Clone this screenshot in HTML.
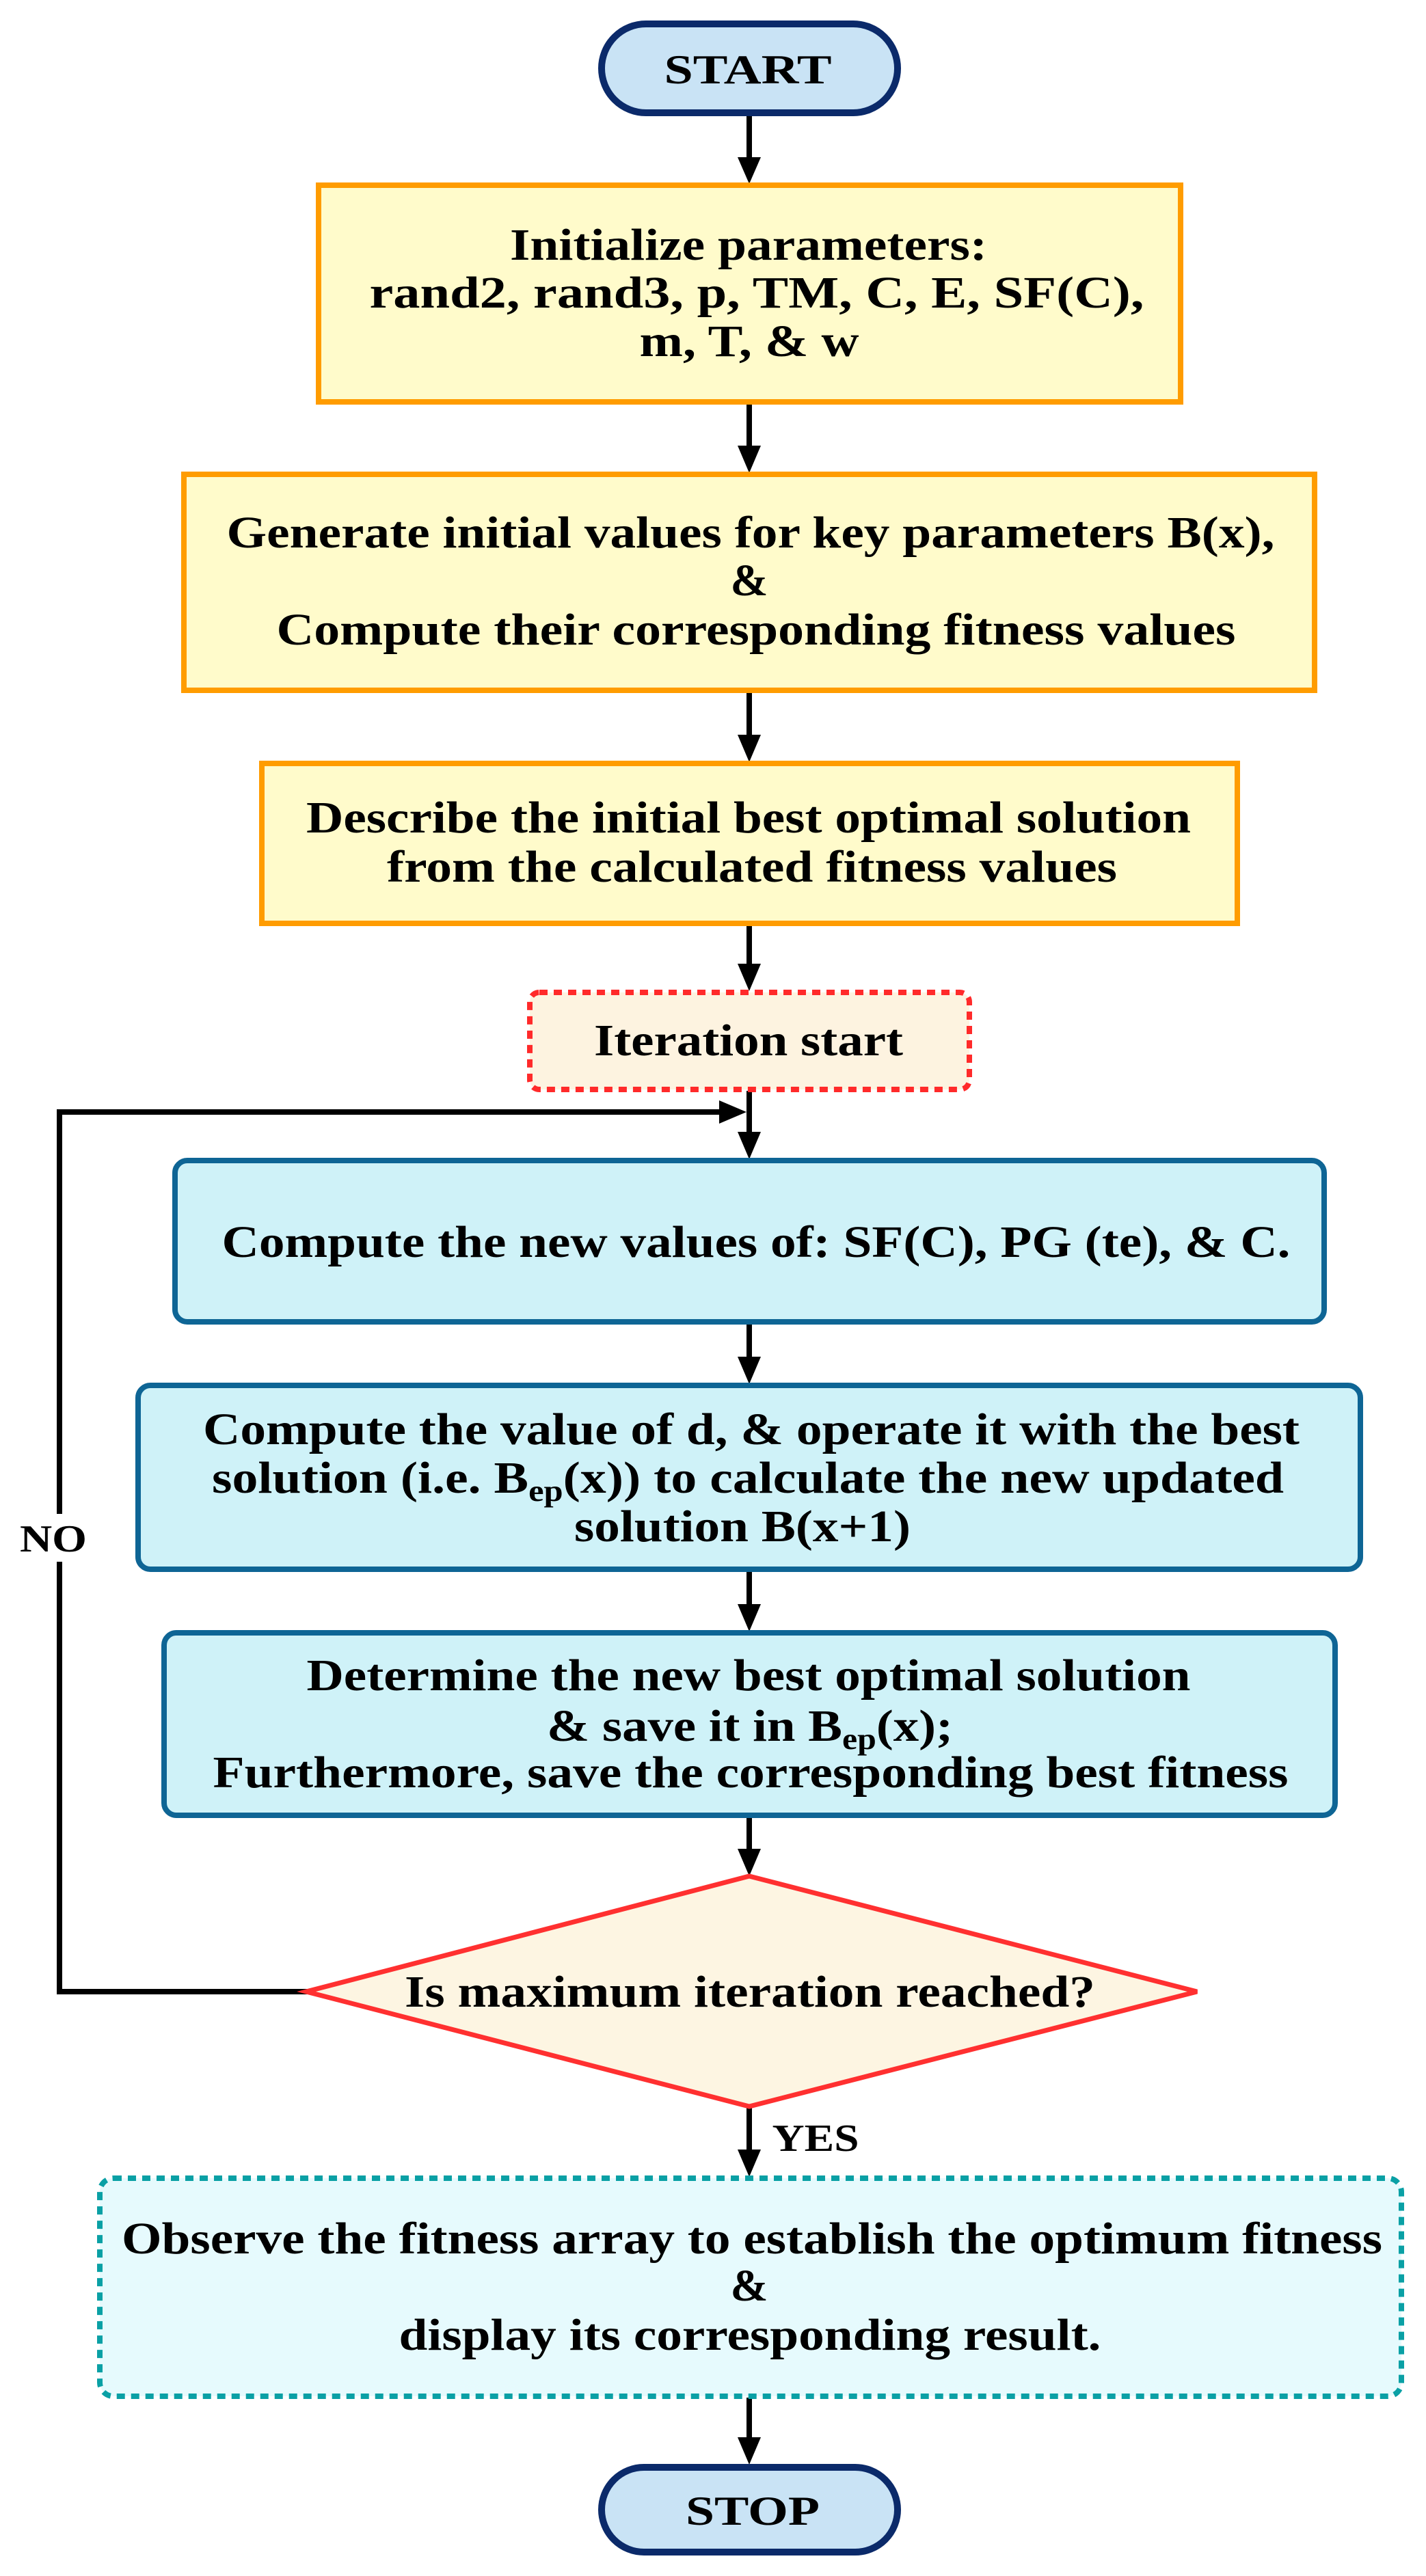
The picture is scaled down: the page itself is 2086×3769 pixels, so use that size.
<!DOCTYPE html>
<html><head><meta charset="utf-8"><style>
html,body{margin:0;padding:0;background:#fff;}
svg{display:block;}
text{font-family:"Liberation Serif",serif;font-weight:bold;fill:#000;text-anchor:middle;}
</style></head><body>
<svg width="2086" height="3769" viewBox="0 0 2086 3769" xmlns="http://www.w3.org/2000/svg">
<g fill="#000">
<rect x="1092" y="169" width="8" height="65"/><polygon points="1079,230 1113,230 1096,269"/>
<rect x="1092" y="590" width="8" height="65"/><polygon points="1079,652 1113,652 1096,692"/>
<rect x="1092" y="1012" width="8" height="65"/><polygon points="1079,1075 1113,1075 1096,1115"/>
<rect x="1092" y="1353" width="8" height="60"/><polygon points="1079,1410 1113,1410 1096,1450"/>
<rect x="1092" y="1596" width="8" height="65"/><polygon points="1079,1656 1113,1656 1096,1696"/>
<rect x="1092" y="1936" width="8" height="55"/><polygon points="1079,1985 1113,1985 1096,2025"/>
<rect x="1092" y="2298" width="8" height="55"/><polygon points="1079,2347 1113,2347 1096,2387"/>
<rect x="1092" y="2658" width="8" height="50"/><polygon points="1079,2705 1113,2705 1096,2745"/>
<rect x="1092" y="3082" width="8" height="65"/><polygon points="1079,3145 1113,3145 1096,3185"/>
<rect x="1092" y="3508" width="8" height="62"/><polygon points="1079,3566 1113,3566 1096,3606"/>
<rect x="83" y="1623" width="8" height="1295"/>
<rect x="83" y="2910" width="368" height="8"/>
<rect x="83" y="1623" width="975" height="8"/><polygon points="1052,1610 1052,1644 1092,1627"/>
</g>
<rect x="20" y="2215" width="120" height="70" fill="#fff"/>
<text x="78" y="2270" font-size="56" textLength="98" lengthAdjust="spacingAndGlyphs">NO</text>
<text x="1193" y="3147" font-size="56" textLength="127" lengthAdjust="spacingAndGlyphs">YES</text>

<rect x="880" y="35" width="433" height="130" rx="65" fill="#c9e3f5" stroke="#0b2a6a" stroke-width="10"/>
<text x="1094" y="122" font-size="60" textLength="245" lengthAdjust="spacingAndGlyphs">START</text>

<rect x="466" y="271" width="1261" height="317" fill="#fffbcb" stroke="#ff9c00" stroke-width="8"/>
<text x="1095" y="380" font-size="66" textLength="698" lengthAdjust="spacingAndGlyphs">Initialize parameters:</text>
<text x="1107" y="450" font-size="66" textLength="1133" lengthAdjust="spacingAndGlyphs">rand2, rand3, p, TM, C, E,   SF(C),</text>
<text x="1096" y="521" font-size="66" textLength="321" lengthAdjust="spacingAndGlyphs">m, T, &amp; w</text>

<rect x="269" y="694" width="1654" height="316" fill="#fffbcb" stroke="#ff9c00" stroke-width="8"/>
<text x="1098" y="801" font-size="66" textLength="1533" lengthAdjust="spacingAndGlyphs">Generate initial values for key parameters B(x),</text>
<text x="1096" y="871" font-size="66">&amp;</text>
<text x="1106" y="943" font-size="66" textLength="1403" lengthAdjust="spacingAndGlyphs">Compute their corresponding fitness values</text>

<rect x="383" y="1117" width="1427" height="234" fill="#fffbcb" stroke="#ff9c00" stroke-width="8"/>
<text x="1095" y="1218" font-size="66" textLength="1294" lengthAdjust="spacingAndGlyphs">Describe the initial best optimal solution</text>
<text x="1100" y="1290" font-size="66" textLength="1068" lengthAdjust="spacingAndGlyphs">from the calculated fitness values</text>

<rect x="775" y="1452" width="643" height="142" rx="14" fill="#fdf3e0" stroke="#ff2a2a" stroke-width="8" stroke-dasharray="12,9"/>
<text x="1095" y="1544" font-size="66" textLength="452" lengthAdjust="spacingAndGlyphs">Iteration start</text>

<rect x="256" y="1698" width="1681" height="236" rx="18" fill="#cff2f8" stroke="#0e6595" stroke-width="8"/>
<text x="1106" y="1839" font-size="66" textLength="1563" lengthAdjust="spacingAndGlyphs">Compute the new values of: SF(C), PG (te), &amp; C.</text>

<rect x="202" y="2027" width="1788" height="269" rx="18" fill="#cff2f8" stroke="#0e6595" stroke-width="8"/>
<text x="1099" y="2113" font-size="66" textLength="1604" lengthAdjust="spacingAndGlyphs">Compute the value of d, &amp; operate it with  the best</text>
<text x="1094" y="2184" font-size="66" textLength="1568" lengthAdjust="spacingAndGlyphs">solution  (i.e. B<tspan font-size="44" dy="12">ep</tspan><tspan dy="-12">(x))  to calculate the new updated</tspan></text>
<text x="1086" y="2255" font-size="66" textLength="492" lengthAdjust="spacingAndGlyphs">solution  B(x+1)</text>

<rect x="240" y="2389" width="1713" height="267" rx="18" fill="#cff2f8" stroke="#0e6595" stroke-width="8"/>
<text x="1095" y="2473" font-size="66" textLength="1293" lengthAdjust="spacingAndGlyphs">Determine the new best optimal solution</text>
<text x="1097" y="2547" font-size="66" textLength="594" lengthAdjust="spacingAndGlyphs">&amp; save it in B<tspan font-size="44" dy="12">ep</tspan><tspan dy="-12">(x);</tspan></text>
<text x="1098" y="2615" font-size="66" textLength="1573" lengthAdjust="spacingAndGlyphs">Furthermore, save the corresponding best fitness</text>

<polygon points="1096,2745 1751,2914 1096,3082 448,2914" fill="#fdf5e2" stroke="#ff3030" stroke-width="7"/>
<text x="1097" y="2936" font-size="66" textLength="1010" lengthAdjust="spacingAndGlyphs">Is maximum iteration reached?</text>

<rect x="146" y="3187" width="1904" height="319" rx="20" fill="#e6fafd" stroke="#0aa0a5" stroke-width="8" stroke-dasharray="12,9"/>
<text x="1100" y="3297" font-size="66" textLength="1844" lengthAdjust="spacingAndGlyphs">Observe the fitness array to establish the optimum fitness</text>
<text x="1096" y="3366" font-size="66">&amp;</text>
<text x="1097" y="3438" font-size="66" textLength="1027" lengthAdjust="spacingAndGlyphs">display its corresponding result.</text>

<rect x="880" y="3610" width="433" height="124" rx="62" fill="#c9e3f5" stroke="#0b2a6a" stroke-width="10"/>
<text x="1101" y="3694" font-size="60" textLength="196" lengthAdjust="spacingAndGlyphs">STOP</text>
</svg>
</body></html>
